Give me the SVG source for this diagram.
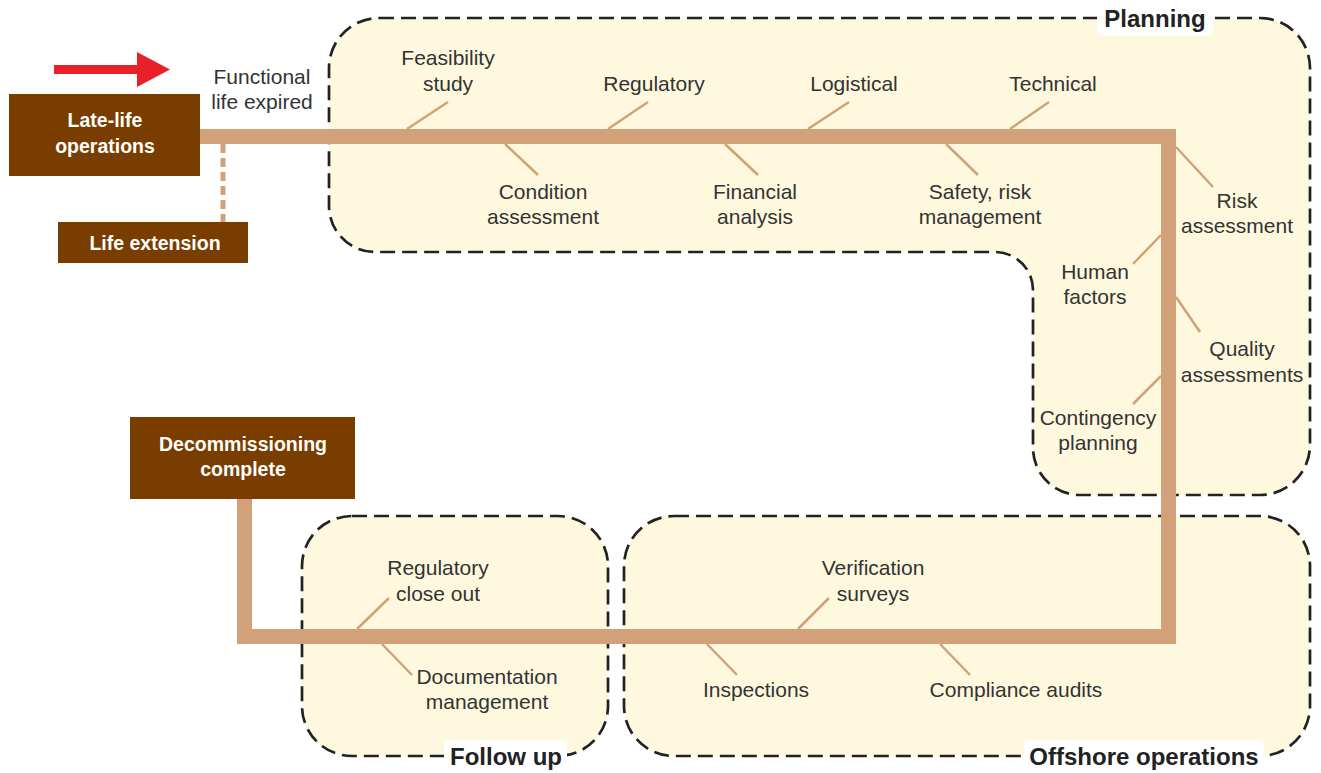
<svg xmlns="http://www.w3.org/2000/svg" width="1321" height="773" viewBox="0 0 1321 773">
<style>
.region{fill:#FEF9DE;stroke:#222;stroke-width:2.7;stroke-dasharray:15,7}
.lbl{font-family:"Liberation Sans",Arial,sans-serif;font-size:21px;fill:#333;text-anchor:middle}
.hd{font-family:"Liberation Sans",Arial,sans-serif;font-size:24px;font-weight:bold;fill:#222;text-anchor:middle}
.box{fill:#7A3D00}
.bt{font-family:"Liberation Sans",Arial,sans-serif;font-size:19.5px;font-weight:bold;fill:#fff;text-anchor:middle}
.tick{stroke:#D2A17A;stroke-width:2.5;fill:none}
.main{stroke:#D2A17A;stroke-width:15;fill:none;stroke-linejoin:miter}
.lab-bg{fill:#fff}
</style>
<rect width="1321" height="773" fill="#fff"/>
<g id="planning">
<path class="region" d="M379,18 H1260 A50,50 0 0 1 1310,68 V445 A50,50 0 0 1 1260,495 H1080 A47,47 0 0 1 1033,448 V290 A38,38 0 0 0 995,252 H375 A46,46 0 0 1 329,206 V68 A50,50 0 0 1 379,18 Z"/>
<rect class="lab-bg" x="1097" y="0" width="116" height="36" rx="8"/>
<text class="hd" x="1155" y="27">Planning</text>
</g>
<g id="followup">
<rect class="region" x="302" y="516" width="306" height="240" rx="50"/>
<rect class="lab-bg" x="444" y="740" width="123" height="33" rx="6"/>
<text class="hd" x="506" y="765">Follow up</text>
</g>
<g id="offshore">
<rect class="region" x="624" y="516" width="686" height="240" rx="50"/>
<rect class="lab-bg" x="1024" y="740" width="240" height="33" rx="6"/>
<text class="hd" x="1144" y="765">Offshore operations</text>
</g>
<g id="connectors">
<path class="main" d="M200,136.5 H1168.5 V636.5 H244.5 V499"/>
<line x1="223" y1="144" x2="223" y2="222" stroke="#D2A17A" stroke-width="5" stroke-dasharray="9,5"/>
<line class="tick" x1="407" y1="129" x2="448" y2="102"/>
<line class="tick" x1="608" y1="129" x2="648" y2="102"/>
<line class="tick" x1="808" y1="129" x2="849" y2="102"/>
<line class="tick" x1="1010" y1="129" x2="1049" y2="102"/>
<line class="tick" x1="505" y1="144" x2="538" y2="175"/>
<line class="tick" x1="725" y1="144" x2="758" y2="175"/>
<line class="tick" x1="946" y1="144" x2="978" y2="175"/>
<line class="tick" x1="1176" y1="147" x2="1213" y2="187"/>
<line class="tick" x1="1161" y1="235" x2="1133" y2="264"/>
<line class="tick" x1="1176" y1="297" x2="1200" y2="332"/>
<line class="tick" x1="1161" y1="376" x2="1133" y2="404"/>
<line class="tick" x1="357" y1="629" x2="389" y2="598"/>
<line class="tick" x1="382" y1="644" x2="412" y2="675"/>
<line class="tick" x1="798" y1="629" x2="829" y2="598"/>
<line class="tick" x1="707" y1="644" x2="737" y2="675"/>
<line class="tick" x1="940" y1="644" x2="970" y2="675"/>
</g>
<g id="arrow">
<polygon points="54,65 137,65 137,52 170,69.5 137,87 137,74 54,74" fill="#E8202A"/>
</g>
<g id="late-life">
<rect class="box" x="9" y="94" width="191" height="82"/>
<text class="bt" x="105" y="127">Late-life</text>
<text class="bt" x="105" y="153">operations</text>
</g>
<g id="life-extension">
<rect class="box" x="58" y="222" width="190" height="41"/>
<text class="bt" x="155" y="250">Life extension</text>
</g>
<g id="decommissioning">
<rect class="box" x="130" y="417" width="225" height="82"/>
<text class="bt" x="243" y="451">Decommissioning</text>
<text class="bt" x="243" y="476">complete</text>
</g>
<g id="labels">
<text class="lbl" x="262" y="84">Functional</text>
<text class="lbl" x="262" y="109">life expired</text>
<text class="lbl" x="448" y="65">Feasibility</text>
<text class="lbl" x="448" y="91">study</text>
<text class="lbl" x="654" y="91">Regulatory</text>
<text class="lbl" x="854" y="91">Logistical</text>
<text class="lbl" x="1053" y="91">Technical</text>
<text class="lbl" x="543" y="199">Condition</text>
<text class="lbl" x="543" y="224">assessment</text>
<text class="lbl" x="755" y="199">Financial</text>
<text class="lbl" x="755" y="224">analysis</text>
<text class="lbl" x="980" y="199">Safety, risk</text>
<text class="lbl" x="980" y="224">management</text>
<text class="lbl" x="1237" y="208">Risk</text>
<text class="lbl" x="1237" y="233">assessment</text>
<text class="lbl" x="1095" y="279">Human</text>
<text class="lbl" x="1095" y="304">factors</text>
<text class="lbl" x="1242" y="356">Quality</text>
<text class="lbl" x="1242" y="382">assessments</text>
<text class="lbl" x="1098" y="425">Contingency</text>
<text class="lbl" x="1098" y="450">planning</text>
<text class="lbl" x="438" y="575">Regulatory</text>
<text class="lbl" x="438" y="601">close out</text>
<text class="lbl" x="487" y="684">Documentation</text>
<text class="lbl" x="487" y="709">management</text>
<text class="lbl" x="873" y="575">Verification</text>
<text class="lbl" x="873" y="601">surveys</text>
<text class="lbl" x="756" y="697">Inspections</text>
<text class="lbl" x="1016" y="697">Compliance audits</text>
</g>
</svg>
